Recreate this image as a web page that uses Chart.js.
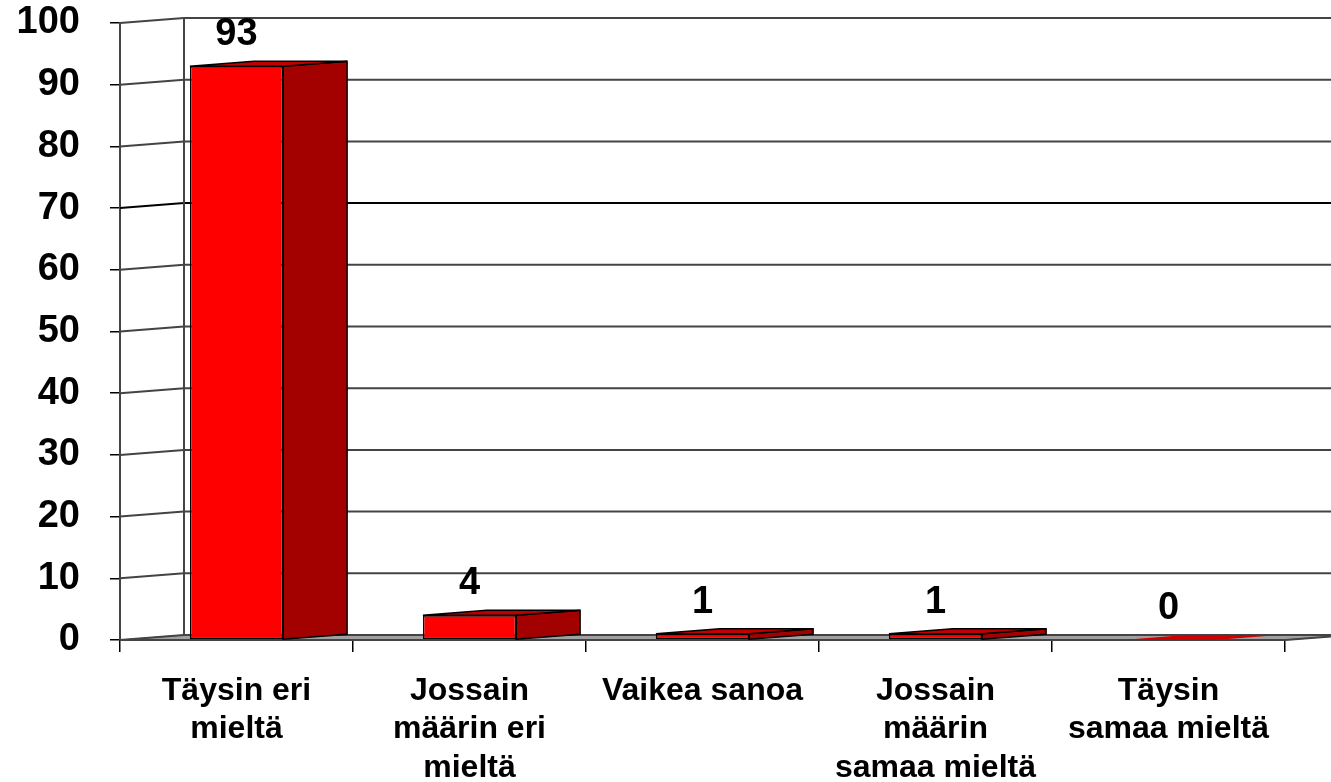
<!DOCTYPE html>
<html>
<head>
<meta charset="utf-8">
<script src="https://cdn.jsdelivr.net/npm/chart.js@4.4.1/dist/chart.umd.min.js"></script>
<style>
  html, body { margin: 0; padding: 0; background: #fff; }
  #wrap { width: 1331px; height: 782px; }
</style>
</head>
<body>
<div id="wrap"><canvas id="canva" width="1331" height="782"></canvas></div>
<script>
const labels = [
  ["Täysin eri", "mieltä"],
  ["Jossain", "määrin eri", "mieltä"],
  ["Vaikea sanoa"],
  ["Jossain", "määrin", "samaa mieltä"],
  ["Täysin", "samaa mieltä"],
];
const values = [93, 4, 1, 1, 0];
const yTicks = [0, 10, 20, 30, 40, 50, 60, 70, 80, 90, 100];

const FONT = "'Liberation Sans', Arial, sans-serif";
const depthX = 64, depthY = -5;

// fake 3d: back wall, floor, bar sides/tops, value labels
const box3d = {
  id: "box3d",
  beforeDatasetsDraw(chart) {
    const { ctx, chartArea: a, scales: { y } } = chart;
    const W = chart.width;
    ctx.save();
    // floor
    ctx.beginPath();
    ctx.moveTo(a.left, a.bottom);
    ctx.lineTo(a.right, a.bottom);
    ctx.lineTo(a.right + depthX, a.bottom + depthY);
    ctx.lineTo(a.left + depthX, a.bottom + depthY);
    ctx.closePath();
    ctx.fillStyle = "#a0a0a0";
    ctx.fill();
    ctx.strokeStyle = "#555";
    ctx.lineWidth = 1;
    ctx.stroke();
    // grid lines on left and back walls
    yTicks.forEach((v) => {
      const py = y.getPixelForValue(v);
      ctx.beginPath();
      ctx.moveTo(a.left, py);
      ctx.lineTo(a.left + depthX, py + depthY);
      ctx.lineTo(W, py + depthY);
      ctx.strokeStyle = v === 70 ? "#000" : "#444";
      ctx.lineWidth = 2;
      ctx.stroke();
    });
    // back corner
    ctx.beginPath();
    ctx.moveTo(a.left + depthX, a.bottom + depthY);
    ctx.lineTo(a.left + depthX, y.getPixelForValue(100) + depthY);
    ctx.strokeStyle = "#444";
    ctx.lineWidth = 2;
    ctx.stroke();
    // front floor edge
    ctx.beginPath();
    ctx.moveTo(a.left, a.bottom);
    ctx.lineTo(a.right, a.bottom);
    ctx.lineTo(W, a.bottom + depthY * (W - a.right) / depthX);
    ctx.strokeStyle = "#444";
    ctx.stroke();
    ctx.restore();
  },
  afterDatasetsDraw(chart) {
    const { ctx } = chart;
    const meta = chart.getDatasetMeta(0);
    ctx.save();
    ctx.lineWidth = 1.5;
    ctx.strokeStyle = "#000";
    meta.data.forEach((bar, i) => {
      const l = bar.x - bar.width / 2, r = bar.x + bar.width / 2;
      const t = bar.y, b = bar.base;
      // side face
      if (b - t > 0.5) {
        ctx.beginPath();
        ctx.moveTo(r, t);
        ctx.lineTo(r + depthX, t + depthY);
        ctx.lineTo(r + depthX, b + depthY);
        ctx.lineTo(r, b);
        ctx.closePath();
        ctx.fillStyle = "#a30000";
        ctx.fill();
        ctx.stroke();
      }
      // top face
      ctx.beginPath();
      ctx.moveTo(l, t);
      ctx.lineTo(r, t);
      ctx.lineTo(r + depthX, t + depthY);
      ctx.lineTo(l + depthX, t + depthY);
      ctx.closePath();
      ctx.fillStyle = b - t > 0.5 ? "#c00000" : "#d00000";
      ctx.fill();
      if (b - t > 0.5) {
        ctx.stroke();
        ctx.beginPath();
        ctx.moveTo(r, t);
        ctx.lineTo(r, b);
        ctx.stroke();
      }
      // value label
      ctx.fillStyle = "#000";
      ctx.font = "bold 38px " + FONT;
      ctx.textAlign = "center";
      ctx.textBaseline = "alphabetic";
      ctx.fillText(String(values[i]), bar.x, t - 21);
    });
    ctx.restore();
  },
};

new Chart(document.getElementById("canva"), {
  type: "bar",
  data: {
    labels: labels,
    datasets: [
      {
        data: values,
        backgroundColor: "#ff0000",
        borderColor: "#000",
        borderWidth: 1.5,
        borderSkipped: false,
        barPercentage: 0.4,
        categoryPercentage: 1,
      },
    ],
  },
  options: {
    responsive: false,
    animation: false,
    layout: { padding: { left: 0, right: 46, top: 0, bottom: 0 } },
    scales: {
      x: {
        afterFit: (s) => { s.height = 142; },
        border: { display: false },
        grid: {
          display: true,
          drawOnChartArea: false,
          drawTicks: true,
          tickLength: 12,
          color: "#000",
          lineWidth: 1.5,
        },
        ticks: {
          color: "#000",
          padding: 20,
          maxRotation: 0,
          autoSkip: false,
          font: { family: FONT, size: 32, weight: "bold", lineHeight: 1.2 },
        },
      },
      y: {
        min: 0,
        max: 100,
        afterFit: (s) => {
          s.width = 120;
          s.paddingTop = 23;
          s.paddingBottom = 0;
        },
        border: { display: true, color: "#444", width: 2 },
        grid: {
          drawOnChartArea: false,
          drawTicks: true,
          tickLength: 10,
          color: "#000",
          lineWidth: 1.5,
        },
        ticks: {
          stepSize: 10,
          color: "#000",
          padding: 30,
          font: { family: FONT, size: 38, weight: "bold" },
        },
      },
    },
    plugins: {
      legend: { display: false },
      tooltip: { enabled: false },
    },
  },
  plugins: [box3d],
});
</script>
</body>
</html>
